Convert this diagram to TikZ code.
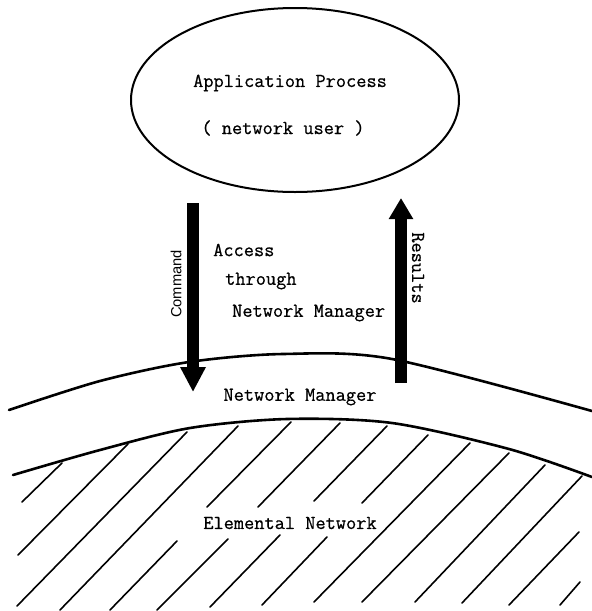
\documentclass[tikz,border=0pt]{standalone}
\usepackage{fontspec}
\newfontfamily\labelsans{Liberation Sans}
\newfontfamily\typewriter[FakeBold=0.6]{Latin Modern Mono}
\usetikzlibrary{arrows.meta,shapes.geometric}
\begin{document}
\begin{tikzpicture}[x=1pt,y=-1pt,
  tt/.style={font=\fontsize{19.8}{24}\selectfont\typewriter, inner sep=0pt},
  sidelabel/.style={font=\fontsize{14.7}{17}\selectfont\labelsans, inner sep=0pt},
  rim/.style={line width=2.6pt, line cap=round},
  hatch/.style={line width=1.6pt, line cap=round},
  bigarrow/.style={line width=12pt, -{Triangle[length=25pt,width=24pt]}},
]
\useasboundingbox (0,0) rectangle (592,611);

% application process
\node[ellipse, draw, line width=2pt, minimum width=328pt, minimum height=184pt, inner sep=0pt] (app) at (295,100) {};
\node[tt] (apptitle) at (290,83) {Application Process};
\node[tt] (appsub) at (283,128) {( network user )};

% command / results arrows
\coordinate (cmdtop) at (193,203);
\coordinate (cmdtip) at (193,392);
\coordinate (resbot) at (401,383);
\coordinate (restip) at (401,198);
\draw[bigarrow] (cmdtop) -- (cmdtip);
\draw[line width=12pt, -{Triangle[length=21pt,width=23pt]}] (resbot) -- (restip);
\node[sidelabel, rotate=90] (cmd) at (176,284) {Command};
\node[tt, rotate=-90] (res) at (418,268) {Results};

\node[tt, anchor=west] (acc1) at (213,250) {Access};
\node[tt, anchor=west] (acc2) at (225,281) {through};
\node[tt, anchor=west] (acc3) at (232,313) {Network Manager};

% network manager band
\draw[rim] plot[smooth, tension=0.5] coordinates {(9,410) (100,381) (189,362) (283,354) (392,359) (592,411)};
\draw[rim] plot[smooth, tension=0.5] coordinates {(13,475) (100,450) (190,428) (287,419) (392,423) (509,449) (592,477)};
\node[tt] (nm) at (300,397) {Network Manager};

% elemental network hatching
\draw[hatch] (62,463) -- (22,502);
\draw[hatch] (128,444) -- (18,555);
\draw[hatch] (187,432) -- (17,606);
\draw[hatch] (238,426) -- (60,610);
\draw[hatch] (291,422) -- (207,507);
\draw[hatch] (177,541) -- (110,610);
\draw[hatch] (340,423) -- (258,507);
\draw[hatch] (228,539) -- (157,610);
\draw[hatch] (387,426) -- (314,501);
\draw[hatch] (280,535) -- (210,607);
\draw[hatch] (428,435) -- (362,503);
\draw[hatch] (327,537) -- (262,605);
\draw[hatch] (470,443) -- (314,602);
\draw[hatch] (509,453) -- (362,602);
\draw[hatch] (545,465) -- (415,602);
\draw[hatch] (582,476) -- (462,603);
\draw[hatch] (579,532) -- (509,605);
\draw[hatch] (580,582) -- (560,605);
\node[tt] (elem) at (290,523) {Elemental Network};
\end{tikzpicture}
\end{document}
